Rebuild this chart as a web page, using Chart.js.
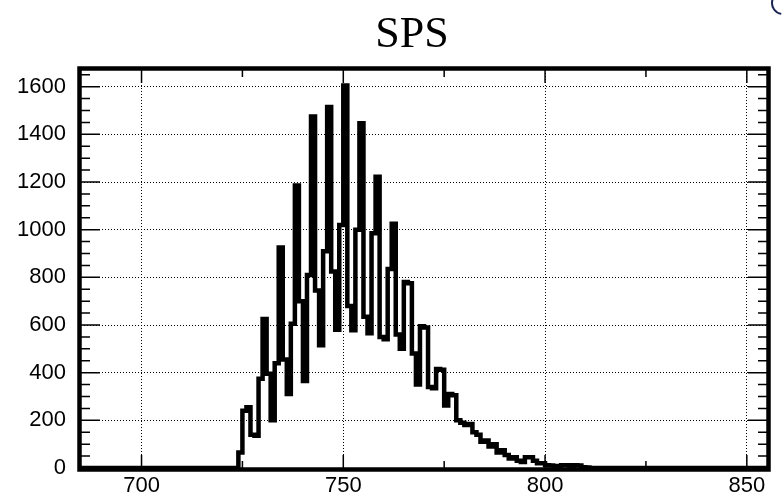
<!DOCTYPE html>
<html>
<head>
<meta charset="utf-8">
<title>SPS</title>
<script src="https://cdn.jsdelivr.net/npm/chart.js@4.4.1/dist/chart.umd.min.js"></script>
<style>
  html, body { margin: 0; padding: 0; background: #fff; }
  canvas { display: block; }
</style>
</head>
<body>
<canvas id="spsChart" width="784" height="500"></canvas>
<script>
// histogram range and contents (1 unit bins)
const xMin = 685;
const xMax = 855;
const yMax = 1670;
const firstBin = 724;
const counts = [
    65, 240, 255, 140, 135, 375, 625, 395, 200, 440,      // 724-733
    925, 455, 310, 605, 1185, 700, 365, 810, 1475, 745,   // 734-743
    515, 910, 1515, 825, 580, 1020, 1605, 680, 578, 1000, // 744-753
    1447, 635, 565, 985, 1222, 550, 540, 835, 1025, 560,  // 754-763
    500, 780, 775, 480, 350, 595, 590, 340, 335, 415,     // 764-773
    412, 262, 310, 305, 200, 190, 180, 185, 150, 140,     // 774-783
    110, 115, 90, 100, 65, 75, 55, 40, 45, 30,            // 784-793
    25, 45, 45, 30, 20, 20, 12, 10, 8, 6,                 // 794-803
    12, 12, 5, 12, 10, 3, 2                               // 804-810
];
const title = 'SPS';

const xTicks = [700, 750, 800, 850];
const xMinorTicks = [725, 775, 825];
const yTicks = [0, 200, 400, 600, 800, 1000, 1200, 1400, 1600];
const yMinorTicks = [50, 100, 150, 250, 300, 350, 450, 500, 550, 650, 700, 750,
    850, 900, 950, 1050, 1100, 1150, 1250, 1300, 1350, 1450, 1500, 1550, 1650];

// step points at the bin edges
const points = [{ x: xMin, y: 0 }];
counts.forEach((c, i) => points.push({ x: firstBin + i, y: c }));
points.push({ x: firstBin + counts.length, y: 0 });
points.push({ x: xMax, y: 0 });

// ROOT style frame with inward ticks on all four sides
const rootFrame = {
    id: 'rootFrame',
    afterDatasetsDraw(chart) {
        const { ctx, chartArea: a, scales: { x, y } } = chart;
        ctx.save();
        ctx.strokeStyle = '#000';
        ctx.lineWidth = 1.5;
        ctx.beginPath();
        const yTick = (v, len) => {
            const p = y.getPixelForValue(v);
            ctx.moveTo(a.left, p); ctx.lineTo(a.left + len, p);
            ctx.moveTo(a.right, p); ctx.lineTo(a.right - len, p);
        };
        const xTick = (v, len) => {
            const p = x.getPixelForValue(v);
            ctx.moveTo(p, a.bottom); ctx.lineTo(p, a.bottom - len);
            ctx.moveTo(p, a.top); ctx.lineTo(p, a.top + len);
        };
        yTicks.forEach(v => yTick(v, 19));
        yMinorTicks.forEach(v => yTick(v, 9));
        xTicks.forEach(v => xTick(v, 13));
        xMinorTicks.forEach(v => xTick(v, 7));
        ctx.stroke();

        ctx.lineWidth = 4.5;
        ctx.strokeRect(a.left - 1.5, a.top - 1.5, a.right - a.left + 3, a.bottom - a.top + 3);
        ctx.restore();
    },
    afterDraw(chart) {
        const ctx = chart.ctx;
        ctx.save();
        ctx.fillStyle = '#000';
        ctx.font = '44px "Liberation Serif"';
        ctx.textAlign = 'center';
        ctx.textBaseline = 'alphabetic';
        ctx.fillText(title, 412, 47);

        ctx.strokeStyle = '#1b2552';
        ctx.lineWidth = 2;
        ctx.beginPath();
        ctx.arc(783, 3, 11, Math.PI * 0.55, Math.PI * 1.3);
        ctx.stroke();
        ctx.restore();
    }
};

const tickFont = { family: 'Liberation Sans', size: 22 };

new Chart(document.getElementById('spsChart'), {
    type: 'line',
    data: {
        datasets: [{
            data: points,
            stepped: 'before',
            borderColor: '#000',
            borderWidth: 4.5,
            pointRadius: 0,
            fill: false
        }]
    },
    options: {
        responsive: false,
        animation: false,
        devicePixelRatio: 1,
        layout: { padding: { left: 0, right: 17, top: 70, bottom: 0 } },
        plugins: {
            legend: { display: false },
            tooltip: { enabled: false },
            title: { display: false }
        },
        scales: {
            x: {
                type: 'linear',
                min: xMin,
                max: xMax,
                afterFit: s => { s.height = 32; },
                grid: { color: '#000', lineWidth: 1, drawTicks: false },
                border: { display: false, dash: [1, 2] },
                ticks: {
                    stepSize: 50, includeBounds: false, maxRotation: 0, padding: 5,
                    color: '#000', font: tickFont, callback: v => String(v)
                }
            },
            y: {
                min: 0,
                max: yMax,
                afterFit: s => { s.width = 81; },
                grid: { color: '#000', lineWidth: 1, drawTicks: false },
                border: { display: false, dash: [1, 2] },
                ticks: {
                    stepSize: 200, includeBounds: false, padding: 15,
                    color: '#000', font: tickFont, callback: v => String(v)
                }
            }
        }
    },
    plugins: [rootFrame]
});
</script>
</body>
</html>
